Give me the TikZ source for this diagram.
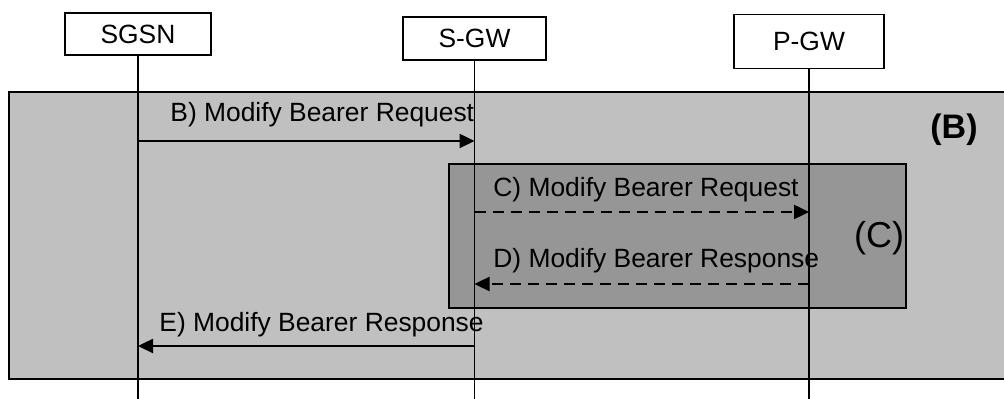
\documentclass[tikz,border=0pt]{standalone}
\usepackage{fontspec}
\setmainfont{Liberation Sans}
\usepackage{xcolor}
\usetikzlibrary{positioning, arrows.meta}

\definecolor{grayB}{HTML}{C0C0C0}
\definecolor{grayC}{HTML}{969696}

\begin{document}
\begin{tikzpicture}[x=0.5pt,y=-0.5pt,>={Triangle[length=7.5pt,width=7pt]},
    entity/.style={draw,fill=white,line width=0.8pt,inner sep=0pt,font=\fontsize{13.2}{15}\selectfont},
    life/.style={line width=0.9pt},
    msg/.style={line width=1.2pt},
    lbl/.style={anchor=base west,inner sep=0pt,font=\fontsize{13.2}{15}\selectfont}]

    \useasboundingbox (0,0) rectangle (1004,399);

    % Procedure areas
    \fill[grayB] (9,92) rectangle (1004,379);
    \draw[line width=0.9pt] (1004,92) -- (9,92) -- (9,379) -- (1004,379);
    \draw[fill=grayC, line width=0.9pt] (449,164) rectangle (906,308);
    \node[font=\fontsize{17}{20}\selectfont\bfseries] (tagB) at (954,130) {(B)};
    \node[font=\fontsize{18}{21}\selectfont] (tagC) at (879,238) {(C)};

    % Entities and lifelines
    \node[entity, minimum width=73pt, minimum height=21pt] (sgsn) at (138,34) {SGSN};
    \node[entity, minimum width=71.5pt, minimum height=21.5pt] (sgw) at (474.5,38.5) {S-GW};
    \node[entity, minimum width=75pt, minimum height=27pt] (pgw) at (809,41.5) {P-GW};
    \coordinate (bottom) at (0,399);
    \draw[life] (sgsn.south) -- (sgsn.south |- bottom);
    \draw[life] (sgw.south) -- (sgw.south |- bottom);
    \draw[life] (pgw.south) -- (pgw.south |- bottom);

    % Messages
    \coordinate (yB) at (0,141);
    \coordinate (yC) at (0,212);
    \coordinate (yD) at (0,284);
    \coordinate (yE) at (0,346);
    \draw[->, msg] (sgsn.south |- yB) -- (sgw.south |- yB);
    \draw[->, msg, dash pattern=on 5.5pt off 3.5pt] (sgw.south |- yC) -- (pgw.south |- yC);
    \draw[->, msg, dash pattern=on 5.5pt off 3.5pt] (pgw.south |- yD) -- (sgw.south |- yD);
    \draw[->, msg] (sgw.south |- yE) -- (sgsn.south |- yE);

    % Labels
    \node[lbl] (lblB) at (170,122) {B) Modify Bearer Request};
    \node[lbl] (lblC) at (493,197) {C) Modify Bearer Request};
    \node[lbl] (lblD) at (493,268) {D) Modify Bearer Response};
    \node[lbl] (lblE) at (159,332) {E) Modify Bearer Response};

\end{tikzpicture}
\end{document}
